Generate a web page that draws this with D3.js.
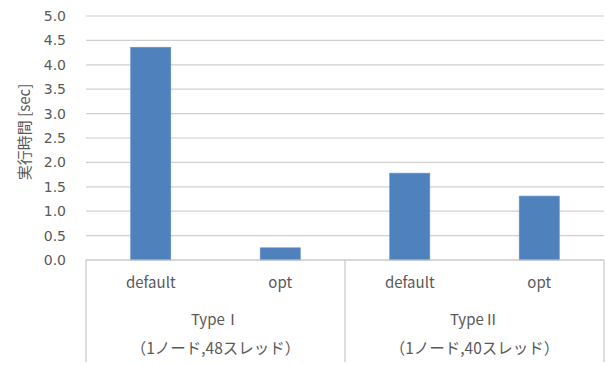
<!DOCTYPE html>
<html>
<head>
<meta charset="utf-8">
<script src="https://cdn.jsdelivr.net/npm/d3@7"></script>
<style>
  html, body { margin: 0; padding: 0; background: #fff; }
  svg { display: block; }
  text { font-family: "Noto Sans CJK JP", "Noto Sans", sans-serif; fill: #595959; }
  .tick-label { font-family: "DejaVu Sans", sans-serif; }
</style>
</head>
<body>
<svg id="chart" width="607" height="365"></svg>
<script>
// Execution times per run
const categories = ["default", "opt", "default", "opt"];
const values = [4.36, 0.25, 1.78, 1.31];
const groupLabels = ["Type Ⅰ", "Type Ⅱ"];
const groupSubs = ["（1ノード,48スレッド）", "（1ノード,40スレッド）"];
const groupSpans = [[0, 1], [2, 3]];
const yTicks = [0, 0.5, 1.0, 1.5, 2.0, 2.5, 3.0, 3.5, 4.0, 4.5, 5.0];
const yTitle = "実行時間 [sec]";

const groups = groupLabels.map((label, i) => ({
  label, sub: groupSubs[i], span: groupSpans[i]
}));

const svg = d3.select("#chart");
const plotLeft = 86, plotRight = 604, plotTop = 16, plotBottom = 260;

const x = d3.scaleBand()
  .domain(d3.range(categories.length))
  .range([plotLeft, plotRight])
  .paddingInner(0.69)
  .paddingOuter(0.345);

const y = d3.scaleLinear().domain([0, 5]).range([plotBottom, plotTop]);

// Horizontal gridlines
svg.append("g")
  .selectAll("line")
  .data(yTicks)
  .join("line")
  .attr("x1", plotLeft).attr("x2", plotRight)
  .attr("y1", d => y(d)).attr("y2", d => y(d))
  .attr("stroke", "#d0d0d0").attr("stroke-width", 1.2);

// Y tick labels
svg.append("g")
  .selectAll("text")
  .data(yTicks)
  .join("text")
  .attr("class", "tick-label")
  .attr("x", 66)
  .attr("y", d => y(d))
  .attr("dy", "0.36em")
  .attr("text-anchor", "end")
  .attr("font-size", 14)
  .text(d => d.toFixed(1));

// Y axis title
svg.append("text")
  .attr("transform", `translate(30,132) rotate(-90)`)
  .attr("text-anchor", "middle")
  .attr("font-size", 15)
  .text(yTitle);

// Bars
svg.append("g")
  .selectAll("rect")
  .data(values)
  .join("rect")
  .attr("x", (d, i) => x(i))
  .attr("width", x.bandwidth())
  .attr("y", d => y(d))
  .attr("height", d => y(0) - y(d))
  .attr("fill", "#4f81bd")
  .attr("stroke", "#6a93c8")
  .attr("stroke-width", 0.6);

// Category axis box
const axisG = svg.append("g").attr("stroke", "#c8c8c8").attr("stroke-width", 1.2);
axisG.append("line").attr("x1", plotLeft).attr("x2", plotRight).attr("y1", plotBottom).attr("y2", plotBottom);
const step = x.step();
const boundaries = [plotLeft, plotLeft + step * 2, plotRight];
axisG.selectAll("line.v")
  .data(boundaries)
  .join("line")
  .attr("class", "v")
  .attr("x1", d => d).attr("x2", d => d)
  .attr("y1", plotBottom).attr("y2", 362);

// Category labels
svg.append("g")
  .selectAll("text")
  .data(categories)
  .join("text")
  .attr("x", (d, i) => x(i) + x.bandwidth() / 2)
  .attr("y", 288)
  .attr("text-anchor", "middle")
  .attr("font-size", 15)
  .text(d => d);

// Group labels
const gl = svg.append("g")
  .selectAll("g")
  .data(groups)
  .join("g");
gl.append("text")
  .attr("x", d => (x(d.span[0]) + x(d.span[1]) + x.bandwidth()) / 2)
  .attr("y", 325)
  .attr("text-anchor", "middle")
  .attr("font-size", 15)
  .attr("word-spacing", -3)
  .text(d => d.label);
gl.append("text")
  .attr("x", d => (x(d.span[0]) + x(d.span[1]) + x.bandwidth()) / 2)
  .attr("y", 354)
  .attr("text-anchor", "middle")
  .attr("font-size", 15.5)
  .text(d => d.sub);
</script>
</body>
</html>
